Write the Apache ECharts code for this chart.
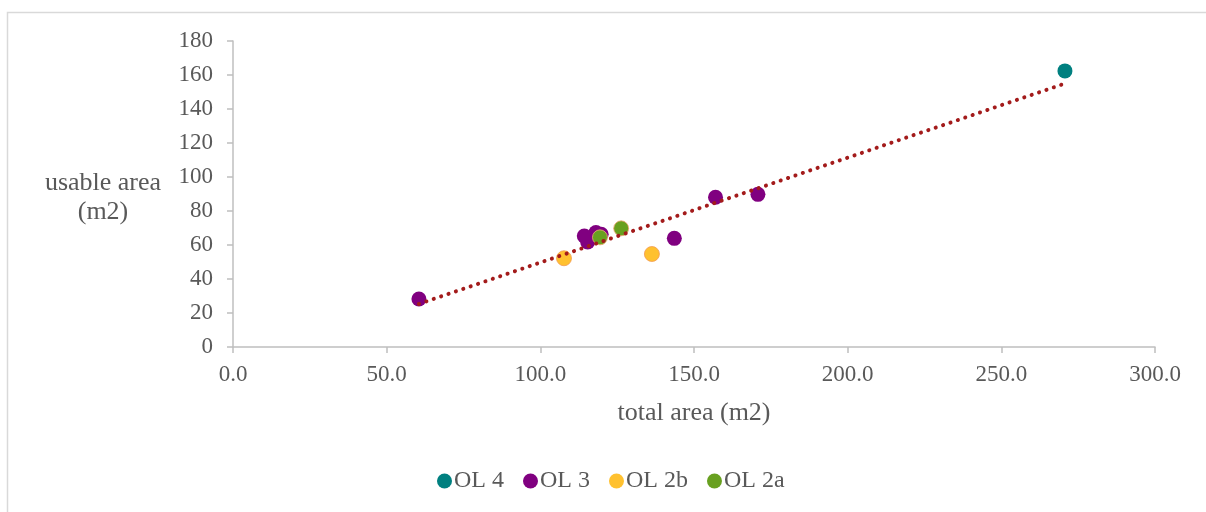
<!DOCTYPE html>
<html>
<head>
<meta charset="utf-8">
<script src="https://cdn.jsdelivr.net/npm/echarts@6/dist/echarts.min.js"></script>
<style>
  html, body { margin: 0; padding: 0; background: #fff; }
  #chart { width: 1206px; height: 512px; }
</style>
</head>
<body>
<div id="chart"></div>
<script>
// ---- data (total area m2, usable area m2) ----
const seriesNames = ['OL 4', 'OL 3', 'OL 2b', 'OL 2a'];
const ol4 = [[270.7, 162.4]];
const ol3 = [[60.5, 28.2], [114.3, 65.3], [115.4, 61.8], [118.1, 67.3], [119.8, 66.3], [143.6, 63.9], [157.0, 88.1], [170.8, 89.8]];
const ol2b = [[107.7, 52.2], [136.3, 54.7]];
const ol2a = [[119.4, 64.5], [126.3, 69.8]];
// linear trendline end points
const trend = [[60.5, 25.3], [270.7, 155.0]];
const xTicks = [0, 50, 100, 150, 200, 250, 300];
const yTicks = [0, 20, 40, 60, 80, 100, 120, 140, 160, 180];

const font = 'Liberation Serif';
const txt = '#595959';
const axisCol = '#BFBFBF';

const chart = echarts.init(document.getElementById('chart'), null, { renderer: 'canvas' });
chart.setOption({
  animation: false,
  backgroundColor: '#fff',
  textStyle: { fontFamily: font },
  graphic: [{
    type: 'rect', silent: true, z: -1,
    shape: { x: 7.5, y: 12.5, width: 1205, height: 510 },
    style: { fill: 'none', stroke: '#D9D9D9', lineWidth: 1.5 }
  }],
  grid: { left: 233, right: 51, top: 41, bottom: 165, containLabel: false },
  legend: {
    data: seriesNames,
    left: 432, top: 464,
    icon: 'circle', itemWidth: 15, itemHeight: 15, itemGap: 19,
    itemStyle: { borderWidth: 0 },
    textStyle: { fontFamily: font, fontSize: 24, color: txt, padding: [0, 0, 0, -3] }
  },
  xAxis: {
    type: 'value', min: xTicks[0], max: xTicks[xTicks.length - 1], interval: 50,
    name: 'total area (m2)', nameLocation: 'middle', nameGap: 53,
    nameTextStyle: { fontFamily: font, fontSize: 26, color: txt },
    axisLine: { show: true, onZero: false, lineStyle: { color: axisCol, width: 1.5 } },
    axisTick: { show: true, length: 6, lineStyle: { color: axisCol, width: 1.5 } },
    axisLabel: { margin: 16, fontFamily: font, fontSize: 23, color: txt, formatter: v => v.toFixed(1) },
    splitLine: { show: false }
  },
  yAxis: {
    type: 'value', min: yTicks[0], max: yTicks[yTicks.length - 1], interval: 20,
    name: '{s| }\n{a|usable area}\n{a|(m2)}', nameLocation: 'middle', nameRotate: 0, nameGap: 130,
    nameTextStyle: {
      fontFamily: font, fontSize: 26, color: txt, align: 'center',
      rich: {
        s: { fontSize: 4, lineHeight: 8 },
        a: { fontFamily: font, fontSize: 26, color: txt, lineHeight: 29, align: 'center' }
      }
    },
    axisLine: { show: true, lineStyle: { color: axisCol, width: 1.5 } },
    axisTick: { show: true, length: 6, lineStyle: { color: axisCol, width: 1.5 } },
    axisLabel: { margin: 20, fontFamily: font, fontSize: 23, color: txt },
    splitLine: { show: false }
  },
  series: [
    { name: 'OL 4', type: 'scatter', data: ol4, symbolSize: 15, itemStyle: { color: '#008080', opacity: 1 }, z: 3 },
    { name: 'OL 3', type: 'scatter', data: ol3, symbolSize: 15, itemStyle: { color: '#800080', opacity: 1 }, z: 3 },
    { name: 'OL 2b', type: 'scatter', data: ol2b, symbolSize: 15, itemStyle: { color: '#FFC12F', borderColor: '#F29A50', borderWidth: 0.8, opacity: 1 }, z: 3 },
    { name: 'OL 2a', type: 'scatter', data: ol2a, symbolSize: 15, itemStyle: { color: '#68A020', borderColor: '#F2A878', borderWidth: 0.8, opacity: 1 }, z: 3 },
    {
      name: 'trend', type: 'line', data: trend, symbol: 'none', silent: true, z: 4,
      lineStyle: { color: '#A31B1B', width: 4, type: [0.1, 7.7], cap: 'round' }
    }
  ]
});
</script>
</body>
</html>
